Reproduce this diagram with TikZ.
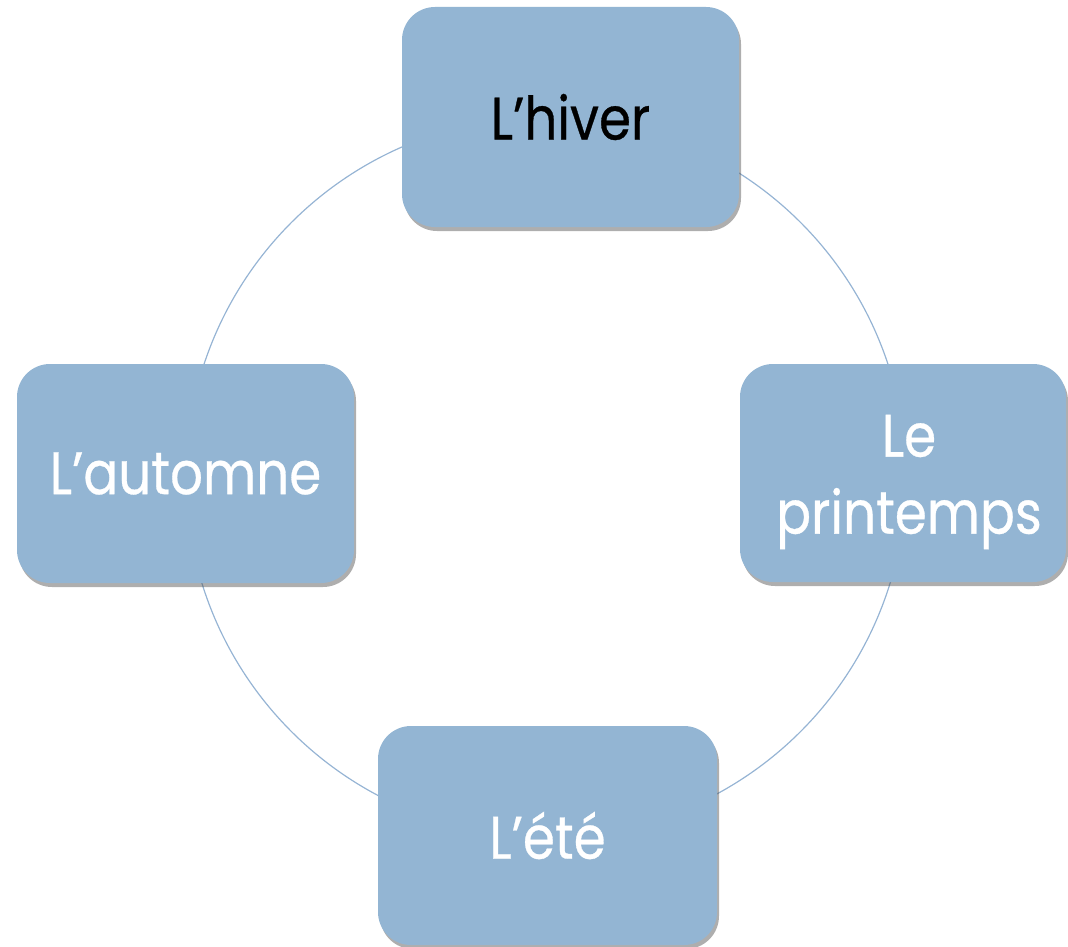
\documentclass[tikz,border=0pt]{standalone}
\usepackage{fontspec}
\setmainfont{Poppins}[FakeStretch=0.86, FakeBold=0.5]
\usetikzlibrary{shadows}
\definecolor{boxfill}{RGB}{147,181,211}
\definecolor{ringcol}{RGB}{150,180,212}
\tikzset{
  seasonfont/.style={font=\fontsize{60}{77}\selectfont},
  season/.style={draw=none, fill=boxfill, rounded corners=33pt, inner sep=0pt,
    align=center, seasonfont,
    drop shadow={shadow xshift=2pt, shadow yshift=-4pt, opacity=0.45, fill=black!70}},
  ring/.style={draw=ringcol, line width=1.2pt}
}
\begin{document}
\begin{tikzpicture}[x=1pt,y=-1pt]
\useasboundingbox (0,0) rectangle (1068,947);
\coordinate (c) at (546,477);
\draw[ring] (c) circle[radius=360];
\node[season, minimum width=337pt, minimum height=220pt, text=black] (hiver) at (570.5,117) {L’hiver};
\node[season, minimum width=326pt, minimum height=218pt,
  label={[seasonfont, text=white, align=center, inner sep=0pt, xshift=6pt, yshift=-9pt]center:Le\\printemps}] (printemps) at (903,473) {};
\node[season, minimum width=337pt, minimum height=219pt, text=white] (automne) at (185.5,473.5) {L’automne};
\node[season, minimum width=339pt, minimum height=219pt, text=white] (ete) at (547.5,835.5) {L’été};
\end{tikzpicture}
\end{document}
